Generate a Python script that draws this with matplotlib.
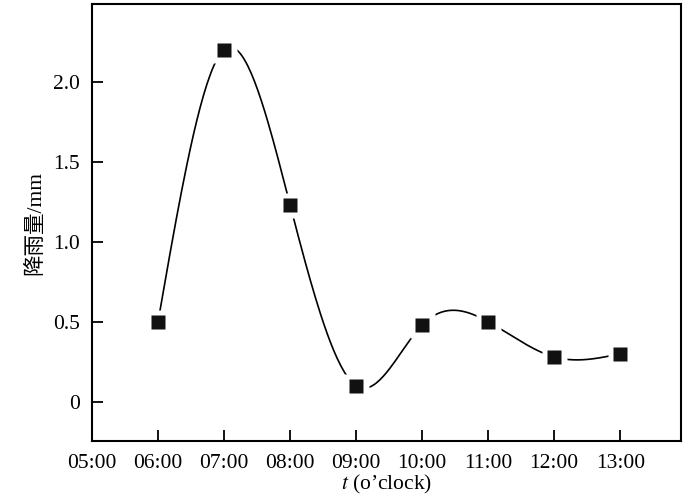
import numpy as np
import matplotlib
matplotlib.use('Agg')
from matplotlib import pyplot as plt

plt.rcParams['font.family'] = ['Liberation Serif', 'Noto Sans CJK SC']
plt.rcParams['mathtext.fontset'] = 'stix'

hours = [6, 7, 8, 9, 10, 11, 12, 13]
rain = [0.5, 2.2, 1.23, 0.1, 0.48, 0.5, 0.28, 0.3]
tick_hours = [5, 6, 7, 8, 9, 10, 11, 12, 13]
tick_labels = ['05:00', '06:00', '07:00', '08:00', '09:00', '10:00', '11:00', '12:00', '13:00']


def natural_spline(x, y, n=40):
    # natural cubic spline, only used to draw the smooth line
    x = np.asarray(x, float)
    y = np.asarray(y, float)
    k = len(x)
    h = np.diff(x)
    A = np.zeros((k, k))
    b = np.zeros(k)
    A[0, 0] = A[-1, -1] = 1
    for i in range(1, k - 1):
        A[i, i - 1] = h[i - 1]
        A[i, i] = 2 * (h[i - 1] + h[i])
        A[i, i + 1] = h[i]
        b[i] = 6 * ((y[i + 1] - y[i]) / h[i] - (y[i] - y[i - 1]) / h[i - 1])
    M = np.linalg.solve(A, b)
    xs, ys = [], []
    for i in range(k - 1):
        t = np.linspace(x[i], x[i + 1], n)
        a = x[i + 1] - t
        c = t - x[i]
        s = (M[i] * a**3 + M[i + 1] * c**3) / (6 * h[i]) \
            + (y[i] / h[i] - M[i] * h[i] / 6) * a \
            + (y[i + 1] / h[i] - M[i + 1] * h[i] / 6) * c
        xs.append(t)
        ys.append(s)
    return np.concatenate(xs), np.concatenate(ys)


fig = plt.figure(figsize=(7, 4.98), dpi=100)
ax = fig.add_axes([92 / 700, 1 - 441 / 498, 589 / 700, 437 / 498])

sx, sy = natural_spline(hours, rain)
ax.plot(sx, sy, color='black', lw=1.2, zorder=2)
# white halo so the line stops short of each marker
ax.plot(hours, rain, 's', ms=18, color='white', mec='none', zorder=3)
ax.plot(hours, rain, 's', ms=10.5, color='#111111', mec='none', zorder=4)

ax.set_xlim(5, 13.92)
ax.set_ylim(-0.245, 2.485)
ax.set_xticks(tick_hours)
ax.set_xticklabels(tick_labels)
ax.set_yticks([0, 0.5, 1.0, 1.5, 2.0])
ax.set_yticklabels(['0', '0.5', '1.0', '1.5', '2.0'])
ax.tick_params(direction='in', length=8, width=1.3, labelsize=15.5)
ax.tick_params(axis='x', pad=9)
ax.tick_params(axis='y', pad=9)
for sp in ax.spines.values():
    sp.set_linewidth(1.5)

ax.set_xlabel(r"$t$ (o’clock)", fontsize=15.5, labelpad=0)
ax.set_ylabel('降雨量/mm', fontsize=15.5, labelpad=5)

fig.savefig('out.png', dpi=100)
